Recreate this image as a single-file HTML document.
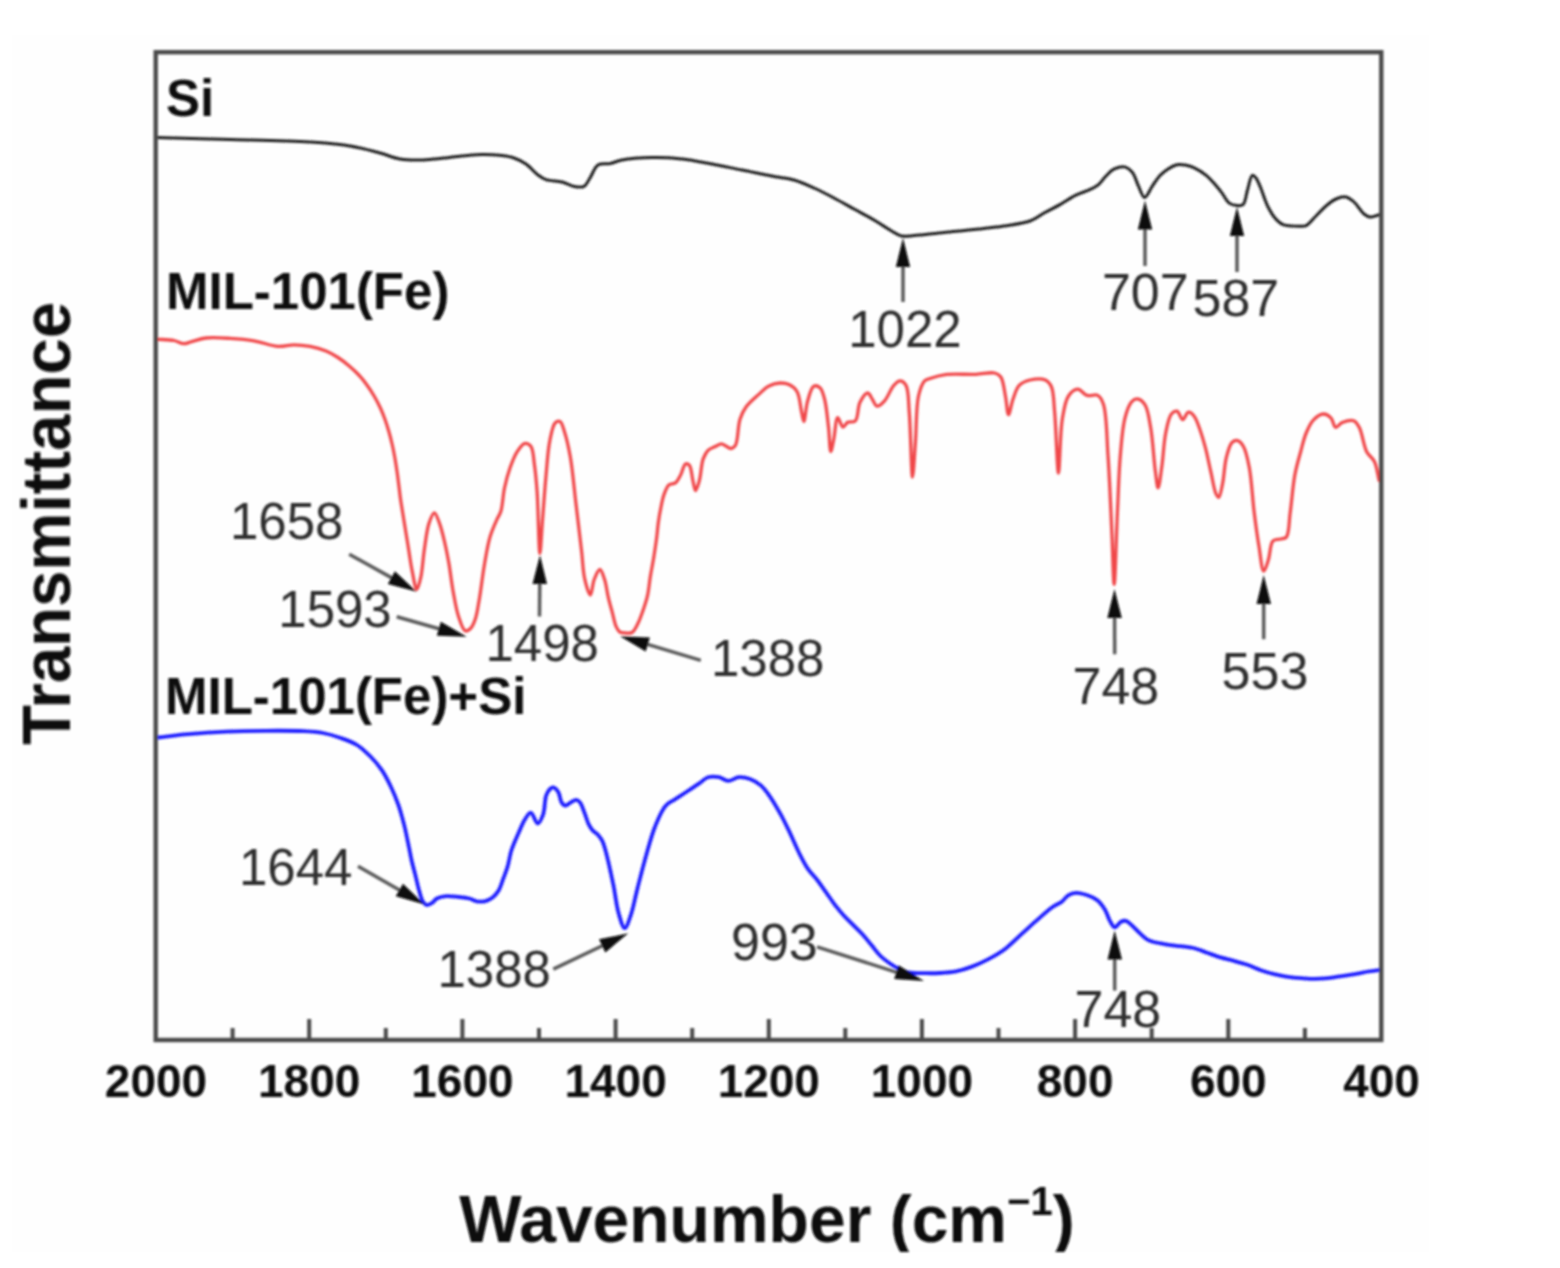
<!DOCTYPE html><html><head><meta charset="utf-8"><title>FTIR spectra</title><style>html,body{margin:0;padding:0;background:#fff;}svg{display:block;}text{font-family:"Liberation Sans", Arial, sans-serif;}</style></head><body>
<svg width="1560" height="1268" viewBox="0 0 1560 1268">
<rect x="0" y="0" width="1560" height="1268" fill="#fff"/>
<rect x="12" y="35" width="1417" height="1217" fill="#fefefe"/>
<defs><clipPath id="cp"><rect x="12" y="35" width="1417" height="1217"/></clipPath><filter id="bl" x="-2%" y="-2%" width="104%" height="104%"><feGaussianBlur stdDeviation="0.9"/></filter></defs>
<g filter="url(#bl)">
<path d="M232.6,1040V1028 M309.2,1040V1019 M385.8,1040V1028 M462.4,1040V1019 M539.0,1040V1028 M615.6,1040V1019 M692.2,1040V1028 M768.8,1040V1019 M845.3,1040V1028 M921.9,1040V1019 M998.5,1040V1028 M1075.1,1040V1019 M1151.7,1040V1028 M1228.3,1040V1019 M1304.9,1040V1028" stroke="#4a4a4a" stroke-width="4" fill="none"/>
<path d="M156.0,137.6 C180.7,138.2 204.9,138.7 230.0,139.4 C256.1,140.1 287.9,140.5 310.0,142.0 C325.6,143.0 337.7,144.0 350.0,146.0 C360.8,147.8 371.0,150.6 380.0,153.0 C387.4,155.0 393.3,157.8 400.0,159.0 C406.6,160.1 413.3,160.1 420.0,160.0 C426.7,159.9 433.2,159.0 440.0,158.4 C447.2,157.7 454.8,156.7 462.0,156.0 C468.8,155.4 475.3,154.5 482.0,154.4 C488.7,154.3 496.2,154.8 502.0,155.6 C506.5,156.2 510.1,156.7 514.0,158.0 C518.1,159.4 522.2,161.4 526.0,164.0 C530.2,166.9 534.3,172.3 538.0,175.0 C540.8,177.1 542.7,178.5 546.0,179.6 C550.3,181.1 557.1,180.7 562.0,182.0 C566.3,183.1 570.1,185.7 574.0,186.4 C577.4,187.0 581.3,187.8 584.0,186.4 C586.7,185.0 587.9,181.1 590.0,178.0 C592.5,174.2 594.4,167.3 598.0,165.0 C601.2,162.9 606.0,164.4 610.0,163.6 C614.0,162.8 617.0,160.9 622.0,160.0 C629.7,158.6 642.0,157.8 652.0,157.6 C662.0,157.4 672.0,157.9 682.0,159.0 C692.0,160.1 702.0,162.2 712.0,164.0 C722.0,165.8 731.8,168.0 742.0,170.0 C752.5,172.1 764.6,174.7 774.0,176.5 C781.4,177.9 787.4,178.1 794.0,180.0 C800.8,181.9 807.4,185.0 814.0,188.0 C820.7,191.0 827.4,194.5 834.0,198.0 C840.7,201.5 847.3,205.3 854.0,209.0 C860.7,212.7 867.8,216.3 874.0,220.0 C879.7,223.3 885.0,227.2 890.0,230.0 C894.2,232.4 897.9,235.1 902.0,236.0 C905.9,236.9 909.1,235.9 914.0,235.6 C921.8,235.1 934.0,233.4 944.0,232.4 C954.0,231.4 964.0,230.7 974.0,229.6 C984.0,228.5 994.4,227.5 1004.0,226.0 C1013.0,224.6 1022.8,223.6 1030.0,221.0 C1035.6,218.9 1039.2,215.7 1044.0,213.0 C1049.1,210.2 1054.8,207.5 1060.0,204.6 C1065.2,201.7 1070.2,198.0 1075.4,195.4 C1080.4,192.9 1086.6,191.3 1090.8,189.2 C1093.9,187.7 1096.1,186.6 1098.5,184.6 C1101.2,182.3 1103.4,178.6 1106.0,176.0 C1108.5,173.5 1110.8,170.7 1113.8,169.2 C1116.9,167.6 1121.4,166.3 1124.6,166.9 C1127.5,167.5 1130.1,169.7 1132.3,172.3 C1135.0,175.6 1136.4,181.8 1138.5,186.2 C1140.5,190.2 1142.3,197.4 1144.6,197.5 C1146.9,197.6 1149.7,189.9 1152.3,186.2 C1154.8,182.5 1157.2,178.4 1160.0,175.4 C1162.4,172.9 1164.9,171.0 1167.7,169.2 C1170.5,167.4 1173.9,165.5 1176.9,164.8 C1179.6,164.2 1182.3,164.6 1185.0,165.0 C1187.9,165.5 1190.7,166.3 1193.8,167.7 C1197.7,169.5 1202.7,172.6 1206.2,175.4 C1209.2,177.8 1211.3,180.4 1213.8,183.1 C1216.4,186.0 1219.0,189.1 1221.5,192.3 C1224.1,195.7 1226.2,200.9 1229.2,203.1 C1231.5,204.8 1234.5,205.4 1236.9,205.6 C1239.1,205.8 1241.5,206.0 1243.1,204.6 C1245.6,202.4 1246.0,194.9 1247.5,190.0 C1249.0,185.1 1250.3,176.1 1252.3,175.4 C1253.4,175.0 1254.9,176.7 1256.0,178.0 C1257.6,179.9 1258.5,182.8 1260.0,186.2 C1262.3,191.4 1264.8,200.5 1267.7,206.2 C1270.1,210.9 1272.5,215.3 1275.4,218.5 C1277.8,221.1 1279.8,223.3 1283.1,224.6 C1287.5,226.3 1295.8,226.2 1300.0,226.2 C1302.5,226.2 1303.9,226.6 1306.0,225.6 C1309.2,224.1 1312.7,219.2 1316.0,216.0 C1319.4,212.7 1322.5,208.9 1326.0,206.0 C1329.2,203.3 1332.5,200.5 1336.0,199.0 C1339.2,197.6 1343.0,196.4 1346.0,197.0 C1348.9,197.5 1351.4,199.7 1354.0,202.0 C1357.4,205.0 1360.8,211.5 1364.0,214.0 C1366.1,215.6 1367.7,216.8 1370.0,217.0 C1372.9,217.3 1376.7,215.3 1380.0,214.4" fill="none" stroke="#1e1e1e" stroke-width="3.0" stroke-linejoin="round" stroke-linecap="round"/>
<path d="M156.4,339.2 C162.3,339.6 169.1,339.5 174.0,340.5 C177.8,341.2 180.6,343.6 183.7,343.7 C186.5,343.8 188.6,342.4 191.7,341.6 C195.8,340.6 200.6,338.6 206.0,338.0 C212.9,337.2 222.0,337.9 230.0,338.4 C238.0,338.9 246.0,339.5 254.0,340.8 C262.0,342.1 270.8,345.9 278.0,346.4 C283.8,346.8 288.7,344.8 294.0,344.8 C299.3,344.8 304.7,345.4 310.0,346.4 C315.4,347.4 321.1,349.0 326.0,351.0 C330.4,352.8 334.2,355.0 338.0,357.5 C341.9,360.0 345.7,363.0 349.2,366.0 C352.6,368.9 355.8,371.8 358.8,375.0 C361.7,378.2 364.4,381.5 366.9,385.0 C369.5,388.5 371.9,392.2 374.1,396.0 C376.4,399.9 378.5,404.0 380.4,408.0 C382.2,412.0 383.8,416.0 385.2,420.0 C386.6,424.0 387.8,427.9 389.0,432.0 C390.2,436.2 391.3,440.7 392.3,445.0 C393.3,449.3 394.1,453.6 394.9,458.0 C395.7,462.6 396.4,467.3 397.1,472.0 C397.8,476.7 398.3,481.4 398.9,486.0 C399.5,490.4 399.9,494.8 400.5,499.0 C401.1,503.1 401.7,506.6 402.4,511.0 C403.3,516.5 404.4,523.1 405.4,529.5 C406.5,536.3 407.7,543.6 408.8,550.5 C409.9,557.3 410.7,564.0 412.1,570.6 C413.4,577.0 415.2,589.4 416.8,589.5 C418.1,589.5 419.7,582.2 420.8,577.3 C422.4,570.2 422.9,559.4 424.2,550.5 C425.6,541.5 426.6,530.4 428.9,523.6 C430.4,519.1 432.5,512.9 434.3,512.9 C436.1,512.9 438.0,519.4 439.6,523.6 C441.7,529.2 443.4,537.0 445.0,543.8 C446.6,550.5 447.7,556.7 449.0,563.9 C450.4,572.2 451.4,581.9 453.0,590.7 C454.6,599.3 456.0,608.8 458.4,616.0 C460.3,621.7 462.4,629.7 465.1,630.8 C466.7,631.4 469.0,630.0 470.5,628.5 C472.6,626.5 474.1,622.6 475.4,618.7 C477.1,613.7 477.8,607.6 479.1,600.5 C480.9,590.5 482.5,575.4 484.5,564.2 C486.2,554.5 487.6,545.1 490.0,537.0 C492.0,530.3 495.1,523.6 497.2,518.9 C498.5,515.9 499.8,514.8 500.8,511.6 C502.6,506.1 502.9,495.5 504.5,488.0 C506.0,481.0 507.8,474.2 510.0,468.0 C512.1,462.2 514.4,456.0 517.2,451.7 C519.4,448.3 521.9,444.2 524.4,443.6 C526.4,443.1 529.2,444.3 530.8,446.3 C533.4,449.5 533.4,457.7 534.4,464.4 C535.6,472.5 536.3,480.8 537.1,491.7 C538.3,508.1 538.8,553.3 539.9,553.3 C540.7,553.3 541.6,531.2 542.6,518.9 C543.7,504.8 544.9,487.4 546.2,473.5 C547.3,461.7 547.9,450.0 549.8,440.8 C551.2,433.8 552.6,425.3 555.3,422.7 C556.7,421.4 558.7,420.8 560.0,421.5 C562.1,422.5 563.2,427.8 564.6,432.2 C566.7,438.6 568.6,447.2 570.3,456.8 C572.6,469.9 574.1,488.2 576.0,504.0 C577.9,519.8 580.0,537.7 581.6,551.4 C582.8,561.8 582.9,571.0 584.7,578.9 C586.1,585.1 588.8,595.1 590.4,595.0 C591.9,594.9 592.4,584.0 594.2,579.5 C595.7,575.7 598.2,569.4 599.9,569.5 C601.6,569.6 603.3,575.6 604.6,579.5 C606.3,584.6 607.0,592.2 608.4,597.9 C609.6,603.0 610.9,607.4 612.2,612.1 C613.5,616.8 614.4,622.7 616.0,626.3 C617.1,628.7 618.1,630.9 619.8,632.0 C621.3,633.0 623.5,632.9 625.5,633.0 C627.6,633.1 630.0,633.6 631.9,632.5 C634.2,631.1 635.9,627.4 637.6,624.1 C639.7,620.1 641.5,614.7 643.2,609.9 C644.8,605.2 646.4,600.8 647.5,595.7 C648.8,589.9 649.3,583.1 650.3,576.8 C651.3,570.5 652.7,564.1 653.7,557.8 C654.7,551.5 655.7,545.0 656.5,538.9 C657.3,533.1 657.6,527.5 658.4,522.0 C659.1,516.8 660.0,511.8 661.0,507.0 C661.9,502.6 662.6,498.1 664.1,494.3 C665.4,490.8 666.9,486.6 669.1,484.8 C670.9,483.4 673.6,484.2 675.4,482.9 C677.5,481.3 678.9,478.2 680.5,475.3 C682.3,472.0 683.5,464.9 685.5,464.0 C686.7,463.5 688.2,464.1 689.3,465.2 C691.5,467.6 691.9,477.1 693.1,481.7 C694.0,485.1 694.6,490.5 695.6,490.5 C696.7,490.5 698.3,484.5 699.4,480.4 C701.0,474.6 701.2,464.4 703.2,458.9 C704.6,455.2 706.1,452.2 708.3,450.1 C710.3,448.2 713.5,447.4 715.8,446.3 C717.8,445.3 719.4,443.7 721.5,443.8 C724.2,443.9 728.3,448.7 730.8,448.5 C732.6,448.4 734.1,447.4 735.4,445.4 C738.2,441.1 737.7,426.2 740.0,419.2 C741.6,414.2 743.2,410.9 746.0,407.0 C749.2,402.6 754.4,398.3 758.5,394.6 C762.1,391.4 765.2,387.9 769.0,386.0 C772.4,384.2 776.5,383.2 780.0,383.0 C783.1,382.9 786.3,383.3 789.0,384.6 C792.0,386.0 795.0,388.2 797.0,391.5 C799.8,396.2 800.2,406.0 801.5,411.5 C802.4,415.4 803.0,421.5 803.8,421.5 C805.0,421.5 805.8,407.0 807.7,400.8 C809.3,395.4 811.0,387.6 813.8,386.2 C815.6,385.3 818.3,386.3 820.0,387.7 C822.3,389.7 823.3,394.4 824.6,399.2 C826.5,406.4 827.4,418.0 828.5,427.0 C829.5,435.4 829.7,451.4 830.8,451.5 C831.6,451.6 832.8,443.7 833.8,439.0 C835.1,432.9 835.7,418.0 837.7,417.7 C839.1,417.5 841.1,426.7 843.0,427.0 C844.5,427.2 845.8,423.3 847.7,422.3 C849.8,421.2 853.5,422.7 855.4,420.8 C858.4,417.9 857.5,407.2 860.0,402.3 C862.0,398.4 865.5,392.9 867.7,393.0 C869.5,393.0 870.8,397.1 872.3,399.2 C873.9,401.4 875.0,405.8 877.0,406.2 C879.1,406.6 882.2,403.4 884.6,400.8 C887.9,397.2 890.7,388.8 893.8,385.4 C895.8,383.1 898.0,380.8 900.0,380.8 C902.0,380.8 904.5,382.8 906.0,385.4 C908.8,390.3 908.3,400.8 909.2,411.5 C910.7,428.4 911.3,477.0 912.5,477.0 C913.4,477.0 914.5,454.7 915.4,442.3 C916.5,428.0 916.0,407.1 918.5,396.0 C920.0,389.4 922.0,383.5 924.6,380.8 C926.2,379.2 927.7,379.3 930.0,378.5 C933.8,377.2 939.3,375.4 945.4,374.6 C953.8,373.5 967.1,374.7 976.0,374.3 C983.0,374.0 990.2,371.9 994.6,373.0 C997.4,373.7 999.2,374.7 1000.8,377.0 C1003.5,380.8 1004.1,389.7 1005.4,396.0 C1006.7,402.2 1007.2,414.5 1008.5,414.6 C1009.7,414.7 1011.2,404.1 1013.0,399.2 C1014.8,394.4 1016.1,388.6 1019.2,385.4 C1022.0,382.5 1026.0,381.0 1030.0,380.0 C1034.6,378.9 1041.7,378.3 1045.4,380.0 C1048.3,381.3 1050.0,383.7 1051.5,387.0 C1053.9,392.5 1053.6,401.5 1054.6,411.5 C1056.1,427.3 1057.2,473.0 1058.5,473.0 C1059.7,473.0 1059.9,433.3 1062.3,419.2 C1063.9,409.8 1065.0,401.1 1068.5,396.0 C1070.9,392.5 1074.6,389.3 1077.7,389.2 C1080.8,389.1 1083.6,394.4 1087.0,395.4 C1090.3,396.4 1095.0,393.9 1097.7,395.4 C1100.5,396.9 1102.0,400.0 1103.5,404.6 C1106.8,414.5 1106.7,437.0 1108.0,455.7 C1109.6,478.4 1110.7,508.4 1111.8,531.4 C1112.7,550.6 1113.3,584.4 1114.2,584.4 C1115.2,584.4 1116.3,535.1 1117.4,512.5 C1118.4,492.5 1118.8,472.7 1120.3,455.7 C1121.5,441.8 1122.4,427.7 1125.0,417.9 C1126.7,411.3 1128.8,404.8 1131.6,401.8 C1133.3,400.0 1135.3,398.7 1137.3,398.9 C1139.7,399.1 1142.9,401.6 1144.9,404.6 C1148.1,409.4 1149.0,418.4 1150.6,427.3 C1152.8,439.4 1153.8,459.7 1155.3,470.9 C1156.3,477.9 1157.1,487.9 1158.1,487.9 C1159.3,487.9 1160.8,473.4 1162.0,465.2 C1163.4,455.4 1163.8,442.3 1165.7,433.0 C1167.2,425.8 1168.6,417.3 1171.4,414.0 C1173.0,412.1 1175.3,410.8 1177.0,411.2 C1179.2,411.8 1180.8,419.6 1182.7,419.7 C1184.6,419.8 1186.3,412.5 1188.4,412.2 C1190.1,411.9 1192.4,414.0 1194.0,416.0 C1196.4,418.9 1198.0,424.3 1199.8,429.2 C1201.9,434.9 1203.7,441.4 1205.5,448.1 C1207.5,455.7 1209.2,464.8 1211.0,472.7 C1212.7,480.0 1214.0,489.5 1215.9,493.6 C1216.8,495.5 1217.8,497.6 1218.7,497.4 C1220.2,497.1 1221.4,489.3 1222.5,484.1 C1224.1,476.8 1224.4,465.1 1226.3,457.6 C1227.8,451.8 1229.4,445.0 1232.0,442.5 C1233.6,441.0 1235.8,440.2 1237.6,440.6 C1239.6,441.1 1241.7,443.4 1243.3,446.2 C1246.0,450.7 1247.6,458.6 1249.2,467.0 C1251.6,479.2 1252.4,498.4 1254.2,512.5 C1255.7,524.7 1257.3,536.2 1259.0,546.6 C1260.5,555.5 1261.7,571.0 1263.7,571.2 C1265.1,571.3 1267.0,564.1 1268.4,559.8 C1270.2,554.4 1269.9,544.0 1273.0,540.9 C1274.9,538.9 1278.3,539.7 1280.7,539.0 C1282.8,538.4 1284.9,538.9 1286.4,537.1 C1289.4,533.5 1288.9,521.6 1290.2,512.5 C1291.8,501.2 1292.8,485.6 1294.9,474.6 C1296.5,466.0 1298.6,459.2 1300.6,452.0 C1302.4,445.4 1303.8,438.6 1306.2,433.0 C1308.3,428.0 1310.6,422.9 1313.8,419.7 C1316.5,416.9 1320.3,414.1 1323.3,414.0 C1325.9,413.9 1328.9,415.9 1330.9,417.9 C1333.1,420.1 1333.5,426.8 1335.6,427.3 C1337.4,427.8 1339.6,423.7 1342.2,422.6 C1345.4,421.3 1350.7,419.6 1353.6,420.7 C1356.1,421.6 1357.5,424.2 1359.2,427.3 C1362.2,432.7 1363.6,445.9 1366.8,452.0 C1369.0,456.1 1372.4,457.5 1374.4,461.4 C1376.9,466.4 1377.5,474.0 1379.1,480.3" fill="none" stroke="#f0464a" stroke-width="3.3" stroke-linejoin="round" stroke-linecap="round"/>
<path d="M157.7,737.5 C168.0,736.4 177.7,735.1 188.5,734.2 C200.6,733.2 214.2,732.3 227.0,731.7 C239.8,731.1 252.6,730.9 265.4,730.8 C278.2,730.7 293.2,730.6 303.8,731.2 C311.3,731.6 316.8,731.9 323.0,733.0 C328.9,734.1 334.4,735.8 340.0,737.8 C345.7,739.8 351.9,741.8 357.0,745.0 C362.0,748.1 366.3,752.3 370.5,756.5 C374.7,760.7 378.6,765.4 382.0,770.4 C385.5,775.5 388.3,781.3 391.0,787.0 C393.8,792.8 396.2,798.7 398.4,805.0 C400.7,811.6 402.6,818.9 404.4,825.9 C406.1,832.9 407.6,840.7 408.9,846.9 C409.9,851.8 410.5,855.5 411.5,860.0 C412.6,864.9 414.1,870.3 415.4,875.4 C416.7,880.5 417.8,886.1 419.2,890.8 C420.4,894.8 421.4,899.3 423.1,901.8 C424.2,903.4 425.4,905.0 426.9,905.2 C428.5,905.4 430.7,903.9 432.3,902.8 C434.0,901.7 434.9,899.6 436.9,898.5 C439.3,897.2 442.9,896.5 446.2,896.2 C449.8,895.9 453.9,896.5 457.7,896.9 C461.5,897.3 465.8,897.7 469.2,898.5 C472.1,899.2 474.3,900.8 476.9,901.3 C479.4,901.7 482.1,901.9 484.6,901.3 C487.2,900.7 490.0,899.4 492.3,897.7 C494.7,895.9 496.8,893.6 498.5,890.8 C500.5,887.6 501.6,883.2 503.1,879.2 C504.7,875.0 506.3,870.8 507.7,866.2 C509.2,861.1 509.7,855.5 511.5,850.0 C513.5,844.0 516.8,836.9 519.2,831.5 C521.1,827.2 522.5,823.3 524.6,820.0 C526.4,817.1 528.8,812.5 530.8,812.6 C533.1,812.8 535.6,823.5 537.7,823.5 C539.6,823.5 541.7,818.3 543.1,814.6 C545.0,809.6 544.5,800.0 546.2,795.4 C547.2,792.6 548.5,790.3 550.0,789.0 C551.1,788.0 552.6,787.2 553.8,787.5 C555.4,787.9 557.3,790.4 558.5,792.5 C560.0,795.1 560.0,800.0 561.5,802.3 C562.6,803.9 563.9,805.5 565.4,805.6 C567.0,805.7 569.0,803.3 570.8,802.3 C572.6,801.4 574.6,799.7 576.2,799.8 C577.6,799.9 578.9,800.9 580.0,802.3 C581.8,804.5 583.2,809.5 584.6,813.1 C586.0,816.7 587.0,820.8 588.5,823.8 C589.7,826.2 590.7,828.1 592.3,830.0 C594.0,832.0 596.8,833.5 598.5,835.4 C600.0,837.1 601.2,838.7 602.3,840.8 C603.6,843.4 604.2,845.9 605.4,850.0 C607.6,858.0 611.2,874.5 613.5,885.7 C615.5,895.5 616.4,905.8 618.7,913.5 C620.4,919.3 622.6,928.1 624.7,928.2 C626.7,928.3 628.9,920.5 630.8,915.2 C633.4,907.8 635.2,897.0 637.7,887.4 C640.4,876.9 643.4,865.0 646.4,854.5 C649.2,844.8 651.6,835.2 655.0,826.7 C658.1,819.1 661.5,810.5 665.5,805.9 C668.2,802.8 671.0,801.9 674.2,799.8 C677.9,797.3 682.2,794.7 686.3,792.0 C690.6,789.2 695.4,786.1 699.3,783.4 C702.5,781.2 704.8,778.2 708.1,777.2 C711.4,776.2 715.6,776.5 719.0,777.2 C722.2,777.8 724.9,780.8 728.1,780.9 C731.6,781.0 735.3,777.5 739.0,777.2 C742.6,776.9 746.4,777.7 749.9,779.0 C753.7,780.4 757.6,782.6 760.8,785.4 C764.2,788.3 766.8,792.1 769.8,796.3 C773.5,801.5 777.3,808.3 780.7,814.4 C784.0,820.4 786.8,826.4 789.8,832.6 C792.9,839.1 795.8,846.2 798.9,852.5 C801.8,858.3 804.6,864.1 807.9,868.9 C810.7,873.0 814.0,875.9 817.0,879.7 C820.1,883.7 823.1,888.2 826.1,892.4 C829.1,896.6 832.0,901.1 835.1,905.1 C838.1,908.9 841.1,912.6 844.2,916.0 C847.2,919.2 850.3,922.1 853.3,925.1 C856.3,928.1 859.4,931.0 862.4,934.2 C865.5,937.6 868.4,941.4 871.4,945.0 C874.4,948.6 877.3,952.9 880.5,956.0 C883.4,958.8 886.5,961.1 889.6,963.2 C892.5,965.2 895.5,967.1 898.6,968.6 C901.6,970.1 904.1,971.5 907.7,972.3 C912.7,973.4 920.2,973.1 925.9,973.2 C930.9,973.3 935.2,973.3 940.0,973.0 C945.2,972.7 950.7,972.4 956.0,971.4 C961.4,970.3 966.7,968.6 972.0,966.6 C977.4,964.6 982.7,962.2 988.0,959.4 C993.4,956.5 998.9,953.5 1004.1,949.7 C1009.6,945.6 1014.8,940.1 1020.1,935.3 C1025.5,930.5 1030.8,925.6 1036.2,920.9 C1041.5,916.3 1047.4,910.7 1052.2,907.3 C1055.7,904.8 1059.0,903.8 1061.8,901.7 C1064.3,899.8 1065.7,896.8 1068.2,895.3 C1070.6,893.9 1073.3,893.0 1076.2,892.9 C1079.6,892.8 1083.9,894.1 1087.4,895.3 C1090.8,896.5 1094.2,897.8 1097.0,900.0 C1100.1,902.4 1102.8,906.2 1105.0,909.7 C1107.1,913.2 1108.1,917.8 1109.9,920.9 C1111.4,923.4 1112.9,927.1 1114.7,927.3 C1116.6,927.5 1118.9,922.7 1121.0,921.7 C1122.6,920.9 1124.2,920.5 1125.9,920.9 C1128.0,921.4 1130.1,923.8 1132.3,925.7 C1134.9,928.0 1137.6,931.3 1140.3,933.7 C1142.9,936.0 1145.0,938.4 1148.3,940.1 C1152.6,942.2 1159.0,943.1 1164.4,944.1 C1169.7,945.1 1175.3,945.5 1180.4,946.2 C1185.0,946.8 1189.2,947.0 1193.5,948.0 C1198.0,949.1 1202.5,951.1 1207.0,952.7 C1211.5,954.3 1215.9,956.0 1220.4,957.4 C1224.8,958.7 1229.3,959.6 1233.8,960.8 C1238.3,962.0 1242.8,963.2 1247.3,964.8 C1251.8,966.4 1256.3,968.6 1260.8,970.2 C1265.2,971.7 1269.7,973.1 1274.2,974.2 C1278.7,975.3 1283.2,976.2 1287.7,976.9 C1292.2,977.6 1296.6,977.9 1301.1,978.2 C1305.6,978.5 1310.1,978.9 1314.6,978.9 C1319.1,978.9 1323.5,978.6 1328.0,978.2 C1332.5,977.7 1337.0,976.9 1341.5,976.2 C1346.0,975.5 1350.5,975.0 1355.0,974.2 C1359.5,973.4 1364.2,972.2 1368.4,971.5 C1372.2,970.9 1375.6,970.6 1379.2,970.2" fill="none" stroke="#1f1fff" stroke-width="3.8" stroke-linejoin="round" stroke-linecap="round"/>
<rect x="155.7" y="52.2" width="1225.6" height="987.8" fill="none" stroke="#4a4a4a" stroke-width="4.4"/>
<line x1="903.0" y1="302.0" x2="903.0" y2="265.0" stroke="#5a5a5a" stroke-width="3.5"/><polygon points="903.0,238.0 910.2,267.0 895.8,267.0" fill="#0a0a0a"/>
<line x1="1145.0" y1="266.0" x2="1145.0" y2="227.5" stroke="#5a5a5a" stroke-width="3.5"/><polygon points="1145.0,200.5 1152.2,229.5 1137.8,229.5" fill="#0a0a0a"/>
<line x1="1237.0" y1="272.0" x2="1237.0" y2="234.0" stroke="#5a5a5a" stroke-width="3.5"/><polygon points="1237.0,207.0 1244.2,236.0 1229.8,236.0" fill="#0a0a0a"/>
<line x1="349.2" y1="554.2" x2="393.1" y2="578.6" stroke="#5a5a5a" stroke-width="3.5"/><polygon points="416.7,591.7 387.8,584.0 394.9,571.3" fill="#0a0a0a"/>
<line x1="396.7" y1="616.7" x2="440.7" y2="629.3" stroke="#5a5a5a" stroke-width="3.5"/><polygon points="466.7,636.7 436.8,635.7 440.8,621.8" fill="#0a0a0a"/>
<line x1="539.5" y1="616.5" x2="539.8" y2="582.0" stroke="#5a5a5a" stroke-width="3.5"/><polygon points="540.0,555.0 547.0,584.1 532.5,583.9" fill="#0a0a0a"/>
<line x1="700.8" y1="660.4" x2="645.9" y2="643.9" stroke="#5a5a5a" stroke-width="3.5"/><polygon points="620.0,636.2 649.9,637.6 645.7,651.5" fill="#0a0a0a"/>
<line x1="1114.7" y1="654.2" x2="1114.6" y2="616.0" stroke="#5a5a5a" stroke-width="3.5"/><polygon points="1114.5,589.0 1121.8,618.0 1107.3,618.0" fill="#0a0a0a"/>
<line x1="1263.7" y1="639.2" x2="1263.7" y2="602.0" stroke="#5a5a5a" stroke-width="3.5"/><polygon points="1263.7,575.0 1271.0,604.0 1256.5,604.0" fill="#0a0a0a"/>
<line x1="358.0" y1="866.3" x2="401.1" y2="891.1" stroke="#5a5a5a" stroke-width="3.5"/><polygon points="424.5,904.5 395.7,896.3 403.0,883.8" fill="#0a0a0a"/>
<line x1="553.3" y1="969.2" x2="603.9" y2="945.0" stroke="#5a5a5a" stroke-width="3.5"/><polygon points="628.3,933.3 605.3,952.4 599.0,939.3" fill="#0a0a0a"/>
<line x1="817.0" y1="946.9" x2="898.3" y2="972.8" stroke="#5a5a5a" stroke-width="3.5"/><polygon points="924.0,981.0 894.2,979.1 898.6,965.3" fill="#0a0a0a"/>
<line x1="1114.7" y1="990.6" x2="1114.7" y2="957.5" stroke="#5a5a5a" stroke-width="3.5"/><polygon points="1114.7,930.5 1122.0,959.5 1107.5,959.5" fill="#0a0a0a"/>
<text x="904.9" y="346.5" font-size="51" fill="#2e2e2e" text-anchor="middle">1022</text>
<text x="1145.3" y="310.0" font-size="52" fill="#2e2e2e" text-anchor="middle">707</text>
<text x="1235.9" y="316.0" font-size="52" fill="#2e2e2e" text-anchor="middle">587</text>
<text x="286.7" y="538.5" font-size="51" fill="#2e2e2e" text-anchor="middle">1658</text>
<text x="335.0" y="626.8" font-size="51" fill="#2e2e2e" text-anchor="middle">1593</text>
<text x="542.2" y="660.8" font-size="51" fill="#2e2e2e" text-anchor="middle">1498</text>
<text x="767.7" y="675.8" font-size="51" fill="#2e2e2e" text-anchor="middle">1388</text>
<text x="1115.9" y="704.3" font-size="52" fill="#2e2e2e" text-anchor="middle">748</text>
<text x="1265.0" y="689.3" font-size="52" fill="#2e2e2e" text-anchor="middle">553</text>
<text x="295.7" y="885.0" font-size="51" fill="#2e2e2e" text-anchor="middle">1644</text>
<text x="494.2" y="986.5" font-size="51" fill="#2e2e2e" text-anchor="middle">1388</text>
<text x="774.4" y="960.0" font-size="52" fill="#2e2e2e" text-anchor="middle">993</text>
<text x="1117.9" y="1027.0" font-size="52" fill="#2e2e2e" text-anchor="middle">748</text>
<text x="166" y="115.5" font-size="51" font-weight="bold" fill="#111">Si</text>
<text x="166" y="309" font-size="51" font-weight="bold" fill="#111">MIL-101(Fe)</text>
<text x="165" y="714" font-size="51" font-weight="bold" fill="#111">MIL-101(Fe)+Si</text>
<text x="156.0" y="1097" font-size="46" font-weight="bold" fill="#111" text-anchor="middle">2000</text>
<text x="309.2" y="1097" font-size="46" font-weight="bold" fill="#111" text-anchor="middle">1800</text>
<text x="462.4" y="1097" font-size="46" font-weight="bold" fill="#111" text-anchor="middle">1600</text>
<text x="615.6" y="1097" font-size="46" font-weight="bold" fill="#111" text-anchor="middle">1400</text>
<text x="768.8" y="1097" font-size="46" font-weight="bold" fill="#111" text-anchor="middle">1200</text>
<text x="921.9" y="1097" font-size="46" font-weight="bold" fill="#111" text-anchor="middle">1000</text>
<text x="1075.1" y="1097" font-size="46" font-weight="bold" fill="#111" text-anchor="middle">800</text>
<text x="1228.3" y="1097" font-size="46" font-weight="bold" fill="#111" text-anchor="middle">600</text>
<text x="1381.5" y="1097" font-size="46" font-weight="bold" fill="#111" text-anchor="middle">400</text>
<g clip-path="url(#cp)"><text x="767" y="1242" font-size="66" font-weight="bold" fill="#111" text-anchor="middle">Wavenumber (cm<tspan font-size="40" dy="-27">&#8722;1</tspan><tspan dy="27">)</tspan></text></g>
<text transform="translate(70,523.4) rotate(-90)" x="0" y="0" font-size="68" font-weight="bold" fill="#111" text-anchor="middle" textLength="443" lengthAdjust="spacingAndGlyphs">Transmittance</text>
</g></svg></body></html>
